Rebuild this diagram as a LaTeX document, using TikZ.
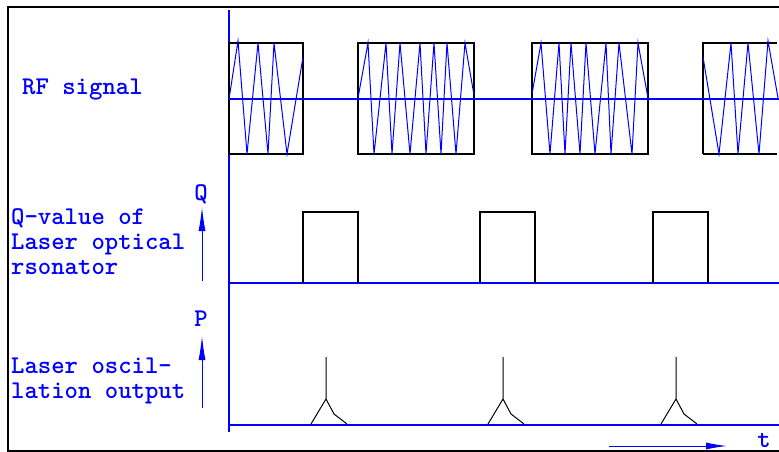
\documentclass[tikz,border=0pt]{standalone}
\usepackage{fontspec}
\usetikzlibrary{arrows.meta}
\begin{document}
\begin{tikzpicture}[x=1pt,y=-1pt,
  lbl/.style={font=\ttfamily\bfseries\fontsize{25.5}{25}\selectfont, text=blue, inner sep=0pt, anchor=base west},
  axlbl/.style={font=\ttfamily\bfseries\fontsize{25.5}{25}\selectfont, text=blue, inner sep=0pt, anchor=base},
  bline/.style={blue, line width=1.1pt},
  wave/.style={blue, line width=1pt, line join=miter},
  kbox/.style={black, line width=1.2pt},
  peak/.style={black, line width=1pt},
  axarrow/.style={blue, line width=1pt, -{Latex[length=24pt,width=7pt]}}
]
\useasboundingbox (0,0) rectangle (779,452);
% frame
\draw[line width=2pt] (779,7) -- (8,7) -- (8,451) -- (779,451);
% time axis
\draw[bline] (229,10) -- (229,432);
% RF signal
\draw[kbox] (229,43) rectangle (303,154);
\draw[kbox] (358,43) rectangle (474,154);
\draw[kbox] (532,43) rectangle (648,154);
\draw[kbox] (703,154) -- (703,43) -- (777,43);
\draw[kbox] (703,154) -- (777,154);
\draw[bline] (229,99) -- (779,99);
\draw[wave] (229,99)--(238,41)--(247,154)--(258,43)--(268,154)--(274,43)--(287,154)--(303,57);
\draw[wave] (358,98)--(368,43)--(374,154)--(386,43)--(392,154)--(400,43)--(410,154)--(420,43)--(426,154)--(434,43)--(441,154)--(447,43)--(456,154)--(465,43)--(474,95);
\draw[wave] (532,94)--(541,43)--(550,154)--(559,43)--(565,154)--(571,43)--(580,154)--(586,43)--(595,154)--(606,43)--(611,154)--(619,43)--(632,154)--(638,43)--(648,98);
\draw[wave] (703,57)--(719,154)--(731,43)--(738,154)--(748,43)--(759,154)--(768,41)--(778,98);
% Q-value
\draw[bline] (229,283) -- (779,283);
\draw[kbox] (303,283) -- (303,212) -- (358,212) -- (358,283);
\draw[kbox] (480,283) -- (480,212) -- (535,212) -- (535,283);
\draw[kbox] (653,283) -- (653,212) -- (708,212) -- (708,283);
% laser output
\draw[bline] (229,425) -- (779,425);
\foreach \dx in {0,177,350}{
  \draw[peak] (326+\dx,357) -- (326+\dx,399) -- (311+\dx,424);
  \draw[peak] (326+\dx,399) -- (334+\dx,414) -- (347+\dx,424);
}
% labels
\node[lbl] (rf) at (22,94) {RF signal};
\node[lbl] (q1) at (11,224) {Q-value of};
\node[lbl] (q2) at (11,249) {Laser optical};
\node[lbl] (q3) at (11,274) {rsonator};
\node[lbl] (p1) at (11,373) {Laser oscil-};
\node[lbl] (p2) at (11,398) {lation output};
% axis arrows
\coordinate (qa0) at (202,281);
\coordinate (qa1) at (202,207);
\draw[axarrow] (qa0) -- (qa1);
\node[axlbl] (ql) at (201,200) {Q};
\coordinate (pa0) at (202,408);
\coordinate (pa1) at (202,336);
\draw[axarrow] (pa0) -- (pa1);
\node[axlbl] (pl) at (201,326) {P};
\coordinate (ta0) at (609,446);
\coordinate (ta1) at (727,446);
\draw[blue, line width=1pt, -{Latex[length=21pt,width=7pt]}] (ta0) -- (ta1);
\node[axlbl] (tl) at (764,447) {t};
\end{tikzpicture}
\end{document}
